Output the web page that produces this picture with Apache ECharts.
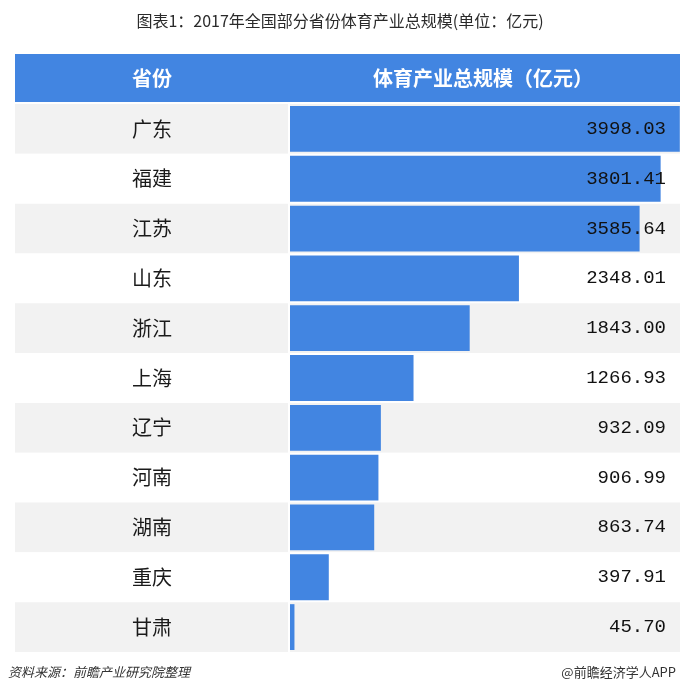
<!DOCTYPE html>
<html><head><meta charset="utf-8">
<script src="https://cdn.jsdelivr.net/npm/echarts@6/dist/echarts.min.js"></script>
<style>html,body{margin:0;padding:0;background:#fff}#c{width:680px;height:693px}</style>
</head><body><div id="c"></div>
<script>
var titleText = '图表1：2017年全国部分省份体育产业总规模(单位：亿元)';
var columnHeaders = ['省份', '体育产业总规模（亿元）'];
var provinces = ['广东','福建','江苏','山东','浙江','上海','辽宁','河南','湖南','重庆','甘肃'];
var values = [3998.03, 3801.41, 3585.64, 2348.01, 1843.00, 1266.93, 932.09, 906.99, 863.74, 397.91, 45.70];
var sourceText = '资料来源：前瞻产业研究院整理';
var brandText = '@前瞻经济学人APP';

var valueLabels = values.map(function(v){ return v.toFixed(2); });
var BLUE = '#4285e1';
var cjk = '"Noto Sans CJK SC", "Noto Sans", sans-serif';

var chart = echarts.init(document.getElementById('c'), null, {renderer:'canvas'});
chart.setOption({
  backgroundColor: '#ffffff',
  animation: false,
  title: {
    text: titleText, left: 'center', top: 8,
    textStyle: {fontFamily: cjk, fontSize: 16, fontWeight: 'normal', color: '#2a2a2a'}
  },
  grid: [
    {left: 15, width: 273, top: 104, height: 548},
    {left: 290, width: 395, top: 104, height: 548}
  ],
  xAxis: [
    {gridIndex: 0, type: 'value', min: 0, max: 1, show: false},
    {gridIndex: 1, type: 'value', min: 0, max: 4000, show: false}
  ],
  yAxis: [
    {gridIndex: 0, type: 'category', data: provinces, inverse: true,
     axisLine: {show: false}, axisTick: {show: false}, axisLabel: {show: false},
     splitLine: {show: false},
     splitArea: {show: true, areaStyle: {color: ['#f2f2f2', '#ffffff']}}},
    {gridIndex: 1, type: 'category', data: provinces, inverse: true,
     axisLine: {show: false}, axisTick: {show: false},
     splitLine: {show: false},
     splitArea: {show: true, areaStyle: {color: ['#f2f2f2', '#ffffff']}},
     axisLabel: {show: true, align: 'center', margin: 138, fontFamily: cjk, fontSize: 20, color: '#1a1a1a'}},
    {gridIndex: 1, type: 'category', data: valueLabels, inverse: true, position: 'right',
     axisLine: {show: false}, axisTick: {show: false}, splitLine: {show: false},
     axisLabel: {show: true, inside: true, margin: 14, fontFamily: '"Liberation Mono", monospace', fontSize: 19, color: '#111'},
     z: 10}
  ],
  series: [{
    type: 'bar', xAxisIndex: 1, yAxisIndex: 1, data: values,
    barCategoryGap: '8%', itemStyle: {color: BLUE}, silent: true
  }],
  graphic: [
    {type: 'rect', left: 15, top: 54, shape: {width: 665, height: 48}, style: {fill: BLUE}, z: 1},
    {type: 'text', x: 152, y: 78, z: 2, style: {text: columnHeaders[0], fill: '#fff', font: 'bold 20px ' + cjk, textAlign: 'center', textVerticalAlign: 'middle'}},
    {type: 'text', x: 483, y: 78, z: 2, style: {text: columnHeaders[1], fill: '#fff', font: 'bold 20px ' + cjk, textAlign: 'center', textVerticalAlign: 'middle'}},
    {type: 'text', x: 8, y: 672, z: 2, style: {text: sourceText, fill: '#333', font: 'italic 13px ' + cjk, textAlign: 'left', textVerticalAlign: 'middle'}},
    {type: 'text', x: 676, y: 672, z: 2, style: {text: brandText, fill: '#333', font: '13px ' + cjk, textAlign: 'right', textVerticalAlign: 'middle'}}
  ]
});
</script></body></html>
